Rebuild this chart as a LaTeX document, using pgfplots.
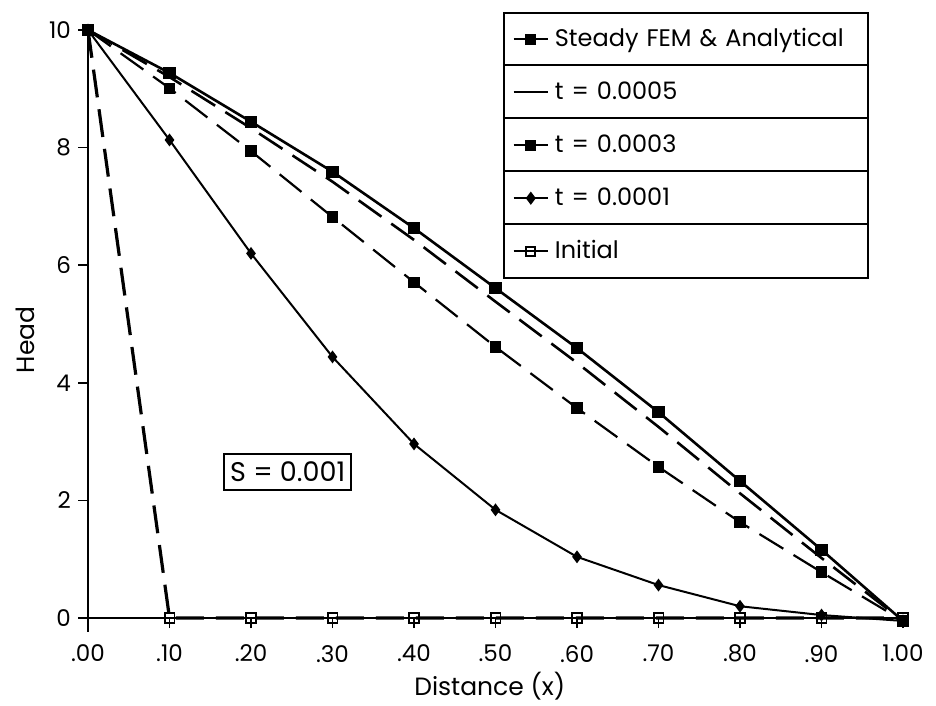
\documentclass[border=0pt]{standalone}
\usepackage{pgfplots}
\pgfplotsset{compat=1.18}
\usepackage{fontspec}
\setmainfont{Poppins}
\begin{document}
\begin{tikzpicture}
\path[use as bounding box] (-44pt,-44pt) rectangle (424pt,309pt);
\begin{axis}[
 at={(0,0)}, anchor=south west,
 scale only axis, width=407.5pt, height=294pt,
 xmin=0, xmax=1, ymin=0, ymax=10,
 axis lines=left, axis line style={-, line width=0.9pt},
 x axis line style={line width=1.4pt},
 clip=false,
 xtick={0,0.1,0.2,0.3,0.4,0.5,0.6,0.7,0.8,0.9,1},
 xticklabels={.00,.10,.20,.30,.40,.50,.60,.70,.80,.90,1.00},
 ytick={0,2,4,6,8,10},
 tick align=outside, major tick length=5pt,
 tick style={line width=0.8pt, black},
 /pgf/number format/assume math mode=true,
 ticklabel style={font=\fontsize{11.5}{13}\selectfont},
 xticklabel style={yshift=-5pt},
 xlabel={Distance (x)}, ylabel={Head},
 label style={font=\fontsize{12.5}{14}\selectfont},
 xlabel style={at={(axis description cs:0.493,-0.116)}, anchor=center},
 ylabel style={at={(axis description cs:-0.077,0.473)}, anchor=center},
 legend style={name=leg, at={(axis cs:0.509,10.31)}, anchor=north west, draw=black, line width=0.9pt, inner xsep=4.5pt, inner ysep=0pt, row sep=0pt, column sep=2pt, font=\fontsize{12}{14}\selectfont, nodes={minimum height=26.5pt, inner xsep=1pt, text width=151pt, align=left}},
 legend cell align=left,
]
\addlegendimage{black, line width=1pt, mark=square*, mark size=2.3pt}
\addlegendentry{Steady FEM \& Analytical}
\addlegendimage{black, line width=1pt}
\addlegendentry{t = 0.0005}
\addlegendimage{black, line width=1pt, mark=square*, mark size=2.3pt}
\addlegendentry{t = 0.0003}
\addlegendimage{black, line width=1pt, mark=diamond*, mark size=2.5pt}
\addlegendentry{t = 0.0001}
\addlegendimage{black, line width=1pt, mark=square, mark size=2.3pt, mark options={fill=white}}
\addlegendentry{Initial}

% Steady FEM & Analytical
\addplot[black, line width=1.3pt, mark=square*, mark size=2.4pt, forget plot] coordinates {
(0,10) (0.1,9.27) (0.2,8.44) (0.3,7.59) (0.4,6.63) (0.5,5.61) (0.6,4.59) (0.7,3.50) (0.8,2.33) (0.9,1.16) (1.0,-0.05)};
% t = 0.0005
\addplot[black, line width=1.3pt, dash pattern=on 14pt off 6pt, forget plot] coordinates {
(0,10) (0.1,9.20) (0.2,8.33) (0.3,7.42) (0.4,6.43) (0.5,5.38) (0.6,4.34) (0.7,3.25) (0.8,2.12) (0.9,1.02) (1.0,-0.05)};
% t = 0.0003
\addplot[black, line width=1.1pt, dash pattern=on 14pt off 6pt, mark=square*, mark size=2.3pt, mark options={solid}, forget plot] coordinates {
(0,10) (0.1,9.01) (0.2,7.94) (0.3,6.82) (0.4,5.71) (0.5,4.61) (0.6,3.57) (0.7,2.57) (0.8,1.63) (0.9,0.78) (1.0,-0.05)};
% t = 0.0001
\addplot[black, line width=1pt, mark=diamond*, mark size=2.4pt, forget plot] coordinates {
(0,10) (0.1,8.13) (0.2,6.20) (0.3,4.44) (0.4,2.96) (0.5,1.84) (0.6,1.04) (0.7,0.56) (0.8,0.20) (0.9,0.05) (1.0,-0.05)};
% Initial
\addplot[black, line width=1.6pt, dash pattern=on 14pt off 6pt, mark=square, mark size=2.4pt, mark options={solid, line width=0.8pt, fill=white}, forget plot] coordinates {
(0,10) (0.1,0) (0.2,0) (0.3,0) (0.4,0) (0.5,0) (0.6,0) (0.7,0) (0.8,0) (0.9,0) (1.0,0)};

\draw[line width=0.9pt] (axis cs:0,0) -- (axis cs:0,-0.24);
\node[draw, line width=0.9pt, inner xsep=3pt, inner ysep=4pt, font=\fontsize{13.5}{15}\selectfont] at (axis cs:0.245,2.48) {S = 0.001};
\end{axis}
\foreach \k in {1,2,3,4} \draw[line width=0.9pt] ([yshift=-\k*26.5pt]leg.north west) -- ([yshift=-\k*26.5pt]leg.north east);
\end{tikzpicture}
\end{document}
